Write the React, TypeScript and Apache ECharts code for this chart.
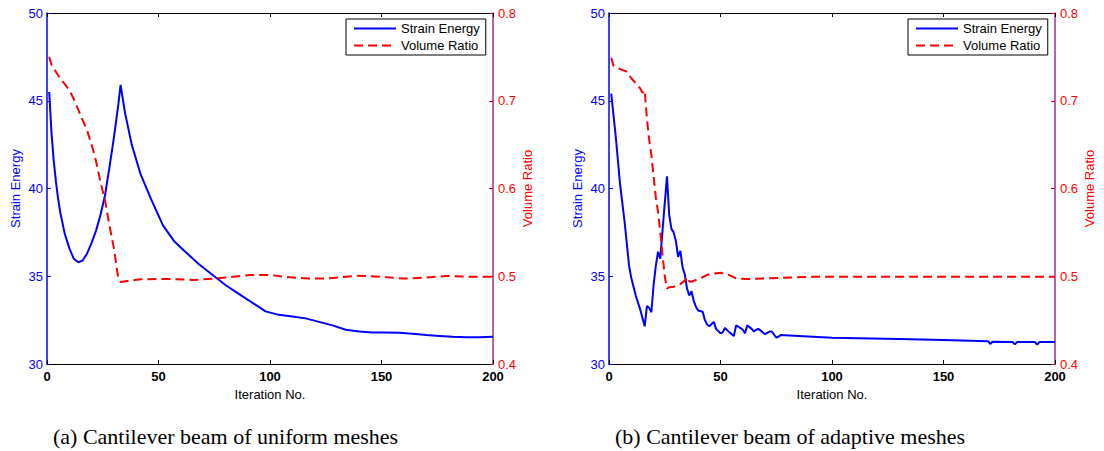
import React, { useEffect, useRef } from "react";
import * as echarts from "echarts";

// ---- Data ----
const xTicks = [0, 50, 100, 150, 200];
const legendNames = ["Strain Energy", "Volume Ratio"];
const captions = ["(a) Cantilever beam of uniform meshes", "(b) Cantilever beam of adaptive meshes"];

// (a) uniform meshes
const uniEnergyIter = [1, 2, 3, 4, 5, 6, 8, 10, 12, 14, 16, 18, 20, 22, 24, 26, 28, 30, 32, 33, 35, 38, 42, 47, 52, 57, 62, 68, 75, 80, 86, 92, 98, 104, 110, 116, 122, 128, 134, 140, 146, 152, 158, 164, 170, 176, 182, 188, 194, 200];
const uniEnergyVal = [45.5, 43.2, 41.6, 40.4, 39.4, 38.6, 37.4, 36.6, 36.0, 35.8, 35.9, 36.3, 36.9, 37.6, 38.5, 39.6, 41.2, 42.9, 44.8, 45.9, 44.3, 42.5, 40.8, 39.3, 37.9, 37.0, 36.4, 35.7, 35.0, 34.5, 34.0, 33.5, 33.0, 32.8, 32.7, 32.6, 32.4, 32.2, 31.95, 31.85, 31.8, 31.8, 31.78, 31.72, 31.65, 31.6, 31.55, 31.52, 31.52, 31.55];
const uniVolumeIter = [1, 2, 4, 6, 8, 10, 12, 14, 16, 18, 20, 22, 24, 26, 28, 30, 32, 33, 36, 42, 54, 66, 76, 91, 100, 109, 119, 127, 139, 149, 160, 169, 179, 190, 200];
const uniVolumeVal = [0.75, 0.741, 0.733, 0.725, 0.719, 0.712, 0.702, 0.69, 0.678, 0.666, 0.65, 0.631, 0.607, 0.587, 0.558, 0.532, 0.497, 0.4935, 0.4945, 0.4965, 0.497, 0.4957, 0.4976, 0.5014, 0.5014, 0.4988, 0.4973, 0.4976, 0.5006, 0.4995, 0.4973, 0.4984, 0.5003, 0.4995, 0.4995];

// (b) adaptive meshes
const adaEnergyIter = [1, 3, 5, 7, 9, 10, 12, 14, 16, 17, 18, 19, 20, 21, 22, 23, 24, 26, 27, 28, 29, 30, 31, 32, 33, 34, 35, 36, 37, 38, 39, 40, 42, 43, 44, 45, 47, 48, 50, 51, 52, 54, 56, 57, 59, 60, 61, 62, 64, 65, 66, 67, 68, 70, 72, 73, 75, 76, 77, 85, 100, 130, 150, 170, 171, 172, 181, 182, 183, 191, 192, 193, 200];
const adaEnergyVal = [45.4, 43.0, 40.2, 38.1, 35.6, 34.9, 33.9, 33.1, 32.15, 33.3, 33.2, 32.95, 34.5, 35.6, 36.4, 36.0, 37.6, 40.7, 38.5, 37.7, 37.5, 37.0, 36.1, 36.45, 35.5, 35.1, 34.3, 33.9, 34.15, 33.6, 33.25, 33.05, 32.98, 32.5, 32.25, 32.15, 32.4, 32.0, 31.75, 31.8, 32.05, 31.8, 31.6, 32.2, 32.05, 31.95, 31.75, 32.2, 32.0, 31.85, 31.95, 32.0, 31.9, 31.7, 31.85, 31.85, 31.5, 31.55, 31.65, 31.6, 31.5, 31.43, 31.37, 31.3, 31.14, 31.27, 31.25, 31.12, 31.25, 31.25, 31.1, 31.25, 31.25];
const adaVolumeIter = [1, 2, 5, 8, 10, 12, 14, 15, 16, 17, 18, 19, 20, 21, 22, 23, 24, 25, 26, 27, 29, 32, 34, 35, 36, 37, 41, 45, 50, 54, 57, 62, 71, 83, 92, 200];
const adaVolumeVal = [0.749, 0.74, 0.736, 0.733, 0.7256, 0.72, 0.714, 0.709, 0.712, 0.68, 0.656, 0.638, 0.614, 0.59, 0.573, 0.55, 0.525, 0.5, 0.486, 0.4875, 0.488, 0.491, 0.495, 0.499, 0.494, 0.4938, 0.4976, 0.5026, 0.504, 0.5014, 0.4976, 0.4969, 0.4976, 0.4988, 0.4995, 0.4995];

const BLUE = "#0000ff";
const RED = "#ff0000";
const PURPLE = "#a02c96";
const SANS = "Liberation Sans";

const pairs = (xs: number[], ys: number[]) => xs.map((x, i) => [x, ys[i]]);

function buildOption() {
  const gridLefts = [47, 609];
  const grids = gridLefts.map((left) => ({ left, top: 13, width: 446, height: 351, containLabel: false }));

  const xAxes: any[] = [];
  const yAxes: any[] = [];
  gridLefts.forEach((_, g) => {
    xAxes.push({
      type: "value", gridIndex: g, min: xTicks[0], max: xTicks[xTicks.length - 1], interval: 50, position: "bottom",
      name: "Iteration No.", nameLocation: "middle", nameGap: 22,
      nameTextStyle: { color: "#000", fontSize: 13, fontFamily: SANS },
      axisLine: { onZero: false, lineStyle: { color: "#000", width: 1 } },
      axisTick: { inside: true, length: 4, lineStyle: { color: "#000" } },
      axisLabel: { color: "#000", fontSize: 13, fontWeight: "bold", margin: 6, fontFamily: SANS },
      splitLine: { show: false },
    });
    xAxes.push({
      type: "value", gridIndex: g, min: 0, max: 200, interval: 50, position: "top",
      axisLine: { onZero: false, lineStyle: { color: "#000", width: 1 } },
      axisTick: { inside: true, length: 4, lineStyle: { color: "#000" } },
      axisLabel: { show: false }, splitLine: { show: false },
    });
    yAxes.push({
      type: "value", gridIndex: g, min: 30, max: 50, interval: 5, position: "left",
      name: "Strain Energy", nameLocation: "middle", nameGap: 25,
      nameTextStyle: { color: BLUE, fontSize: 13, fontFamily: SANS },
      axisLine: { show: true, onZero: false, lineStyle: { color: BLUE, width: 1.5 } },
      axisTick: { show: true, inside: true, length: 4, lineStyle: { color: BLUE } },
      axisLabel: { color: BLUE, fontSize: 13, margin: 4, fontFamily: SANS },
      splitLine: { show: false },
    });
    yAxes.push({
      type: "value", gridIndex: g, min: 0.4, max: 0.8, interval: 0.1, position: "right",
      name: "Volume Ratio", nameLocation: "middle", nameGap: 28,
      nameTextStyle: { color: RED, fontSize: 13, fontFamily: SANS },
      axisLine: { show: true, onZero: false, lineStyle: { color: PURPLE, width: 1.5 } },
      axisTick: { show: true, inside: true, length: 4, lineStyle: { color: "#c00030" } },
      axisLabel: { color: RED, fontSize: 13, margin: 5, fontFamily: SANS, formatter: (v: number) => v.toFixed(1) },
      splitLine: { show: false },
    });
  });

  const energyLine = (g: number, data: number[][]) => ({
    name: legendNames[0], type: "line", xAxisIndex: g * 2, yAxisIndex: g * 2, data,
    symbol: "none", showSymbol: false, lineStyle: { color: BLUE, width: 2 }, itemStyle: { color: BLUE },
    z: 2,
  });
  const volumeLine = (g: number, data: number[][]) => ({
    name: legendNames[1], type: "line", xAxisIndex: g * 2, yAxisIndex: g * 2 + 1, data,
    symbol: "none", showSymbol: false, lineStyle: { color: RED, width: 2, type: [9, 5] }, itemStyle: { color: RED },
    z: 3,
  });

  const legend = (left: number) => ({
    left, top: 19, orient: "vertical", data: legendNames,
    itemWidth: 42, itemHeight: 14, itemGap: 4, padding: [3, 6, 3, 7],
    borderColor: "#000", borderWidth: 1, backgroundColor: "#fff", borderRadius: 0,
    textStyle: { fontSize: 13, color: "#000", fontFamily: SANS },
    itemStyle: { opacity: 0 },
    selectedMode: false,
  });

  return {
    animation: false,
    backgroundColor: "#fff",
    grid: grids,
    xAxis: xAxes,
    yAxis: yAxes,
    legend: [legend(346), legend(908)],
    series: [
      energyLine(0, pairs(uniEnergyIter, uniEnergyVal)),
      volumeLine(0, pairs(uniVolumeIter, uniVolumeVal)),
      energyLine(1, pairs(adaEnergyIter, adaEnergyVal)),
      volumeLine(1, pairs(adaVolumeIter, adaVolumeVal)),
    ],
    graphic: [
      { type: "text", left: 53, top: 425, style: { text: captions[0], fill: "#000", font: '22px "Liberation Serif"' } },
      { type: "text", left: 615, top: 425, style: { text: captions[1], fill: "#000", font: '22px "Liberation Serif"' } },
    ],
  };
}

export default function App() {
  const ref = useRef<HTMLDivElement>(null);
  useEffect(() => {
    if (!ref.current) return;
    const chart = echarts.init(ref.current, undefined, { renderer: "svg" });
    chart.setOption(buildOption() as any);
    return () => chart.dispose();
  }, []);
  return <div ref={ref} style={{ position: "absolute", left: 0, top: 0, width: 1104, height: 451 }} />;
}
